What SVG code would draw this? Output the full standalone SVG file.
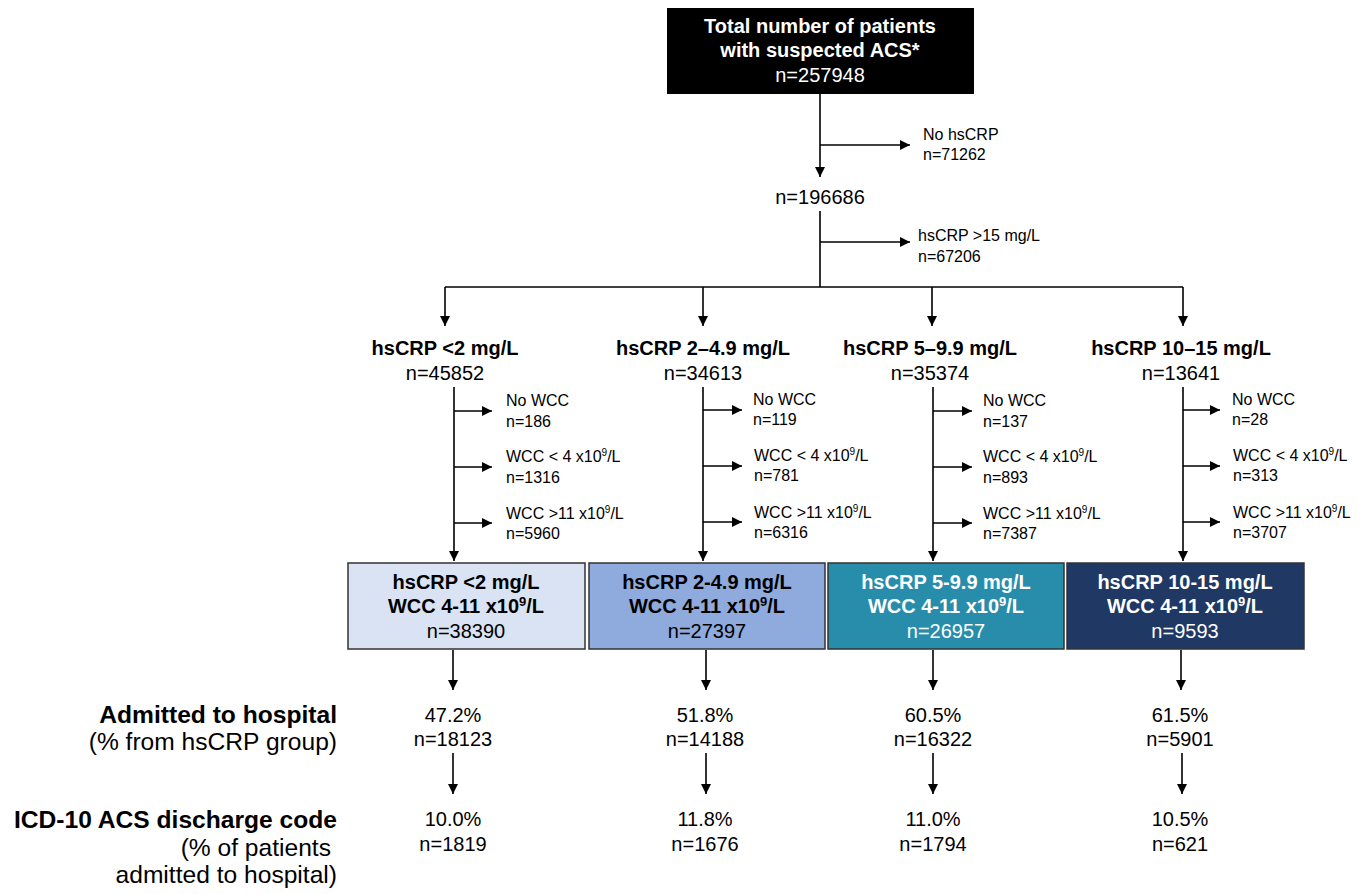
<svg xmlns="http://www.w3.org/2000/svg" width="1370" height="894" viewBox="0 0 1370 894">
<defs>
<marker id="ah" markerUnits="userSpaceOnUse" markerWidth="11" markerHeight="10" refX="10" refY="5" orient="auto">
<path d="M0,0 L10,5 L0,10 z" fill="#000"/>
</marker>
<style>
.c{stroke:#000;stroke-width:1.6;fill:none;marker-end:url(#ah)}
.p{stroke:#000;stroke-width:1.6;fill:none}
text{font-family:"Liberation Sans",Arial,sans-serif;fill:#000}
.b{font-weight:bold}
.m{text-anchor:middle}
.e{text-anchor:end}
.s16{font-size:16px}
.s20{font-size:20px}
.s24{font-size:24.6px}
.w{fill:#fff}
.box{stroke:#333;stroke-width:1.5}
</style>
</defs>
<rect width="1370" height="894" fill="#fff"/>

<g id="connectors">
<line class="c" x1="820" y1="94" x2="820" y2="177"/>
<line class="c" x1="820" y1="145" x2="910" y2="145"/>
<line class="p" x1="820" y1="211" x2="820" y2="287"/>
<line class="c" x1="820" y1="242" x2="910" y2="242"/>
<line class="p" x1="445" y1="287" x2="1183" y2="287"/>
<line class="c" x1="445" y1="287" x2="445" y2="326"/>
<line class="c" x1="703" y1="287" x2="703" y2="326"/>
<line class="c" x1="932" y1="287" x2="932" y2="326"/>
<line class="c" x1="1183" y1="287" x2="1183" y2="326"/>

<line class="c" x1="454" y1="387" x2="454" y2="561"/>
<line class="c" x1="454" y1="411" x2="492" y2="411"/>
<line class="c" x1="454" y1="467" x2="492" y2="467"/>
<line class="c" x1="454" y1="523" x2="492" y2="523"/>

<line class="c" x1="703" y1="387" x2="703" y2="561"/>
<line class="c" x1="703" y1="410" x2="742" y2="410"/>
<line class="c" x1="703" y1="466" x2="742" y2="466"/>
<line class="c" x1="703" y1="522" x2="742" y2="522"/>

<line class="c" x1="933" y1="387" x2="933" y2="561"/>
<line class="c" x1="933" y1="411" x2="972" y2="411"/>
<line class="c" x1="933" y1="467" x2="972" y2="467"/>
<line class="c" x1="933" y1="523" x2="972" y2="523"/>

<line class="c" x1="1183" y1="387" x2="1183" y2="561"/>
<line class="c" x1="1183" y1="410" x2="1220" y2="410"/>
<line class="c" x1="1183" y1="466" x2="1220" y2="466"/>
<line class="c" x1="1183" y1="522" x2="1220" y2="522"/>

<line class="c" x1="453" y1="650" x2="453" y2="690"/>
<line class="c" x1="706" y1="650" x2="706" y2="690"/>
<line class="c" x1="933" y1="650" x2="933" y2="690"/>
<line class="c" x1="1181" y1="650" x2="1181" y2="690"/>
<line class="c" x1="453" y1="753" x2="453" y2="794"/>
<line class="c" x1="706" y1="753" x2="706" y2="794"/>
<line class="c" x1="933" y1="753" x2="933" y2="794"/>
<line class="c" x1="1182" y1="753" x2="1182" y2="794"/>
</g>

<g id="total">
<rect x="667" y="8" width="307" height="86" fill="#000"/>
<text class="b s20 m w" x="820" y="33">Total number of patients</text>
<text class="b s20 m w" x="820" y="57">with suspected ACS*</text>
<text class="s20 m w" x="820" y="82">n=257948</text>
</g>

<g id="no-hscrp">
<text class="s16" x="923" y="140">No hsCRP</text>
<text class="s16" x="923" y="160">n=71262</text>
</g>

<g id="n196686">
<text class="s20 m" x="820" y="204">n=196686</text>
</g>

<g id="hscrp-gt15">
<text class="s16" x="918" y="241">hsCRP &gt;15 mg/L</text>
<text class="s16" x="918" y="262">n=67206</text>
</g>

<g id="head1">
<text class="b s20 m" x="445" y="355">hsCRP &lt;2 mg/L</text>
<text class="s20 m" x="445" y="380">n=45852</text>
</g>
<g id="head2">
<text class="b s20 m" x="703" y="355">hsCRP 2–4.9 mg/L</text>
<text class="s20 m" x="703" y="380">n=34613</text>
</g>
<g id="head3">
<text class="b s20 m" x="930" y="355">hsCRP 5–9.9 mg/L</text>
<text class="s20 m" x="930" y="380">n=35374</text>
</g>
<g id="head4">
<text class="b s20 m" x="1181" y="355">hsCRP 10–15 mg/L</text>
<text class="s20 m" x="1181" y="380">n=13641</text>
</g>

<g id="excl1">
<text class="s16" x="506" y="406">No WCC</text>
<text class="s16" x="506" y="427">n=186</text>
<text class="s16" x="506" y="462">WCC &lt; 4 x10<tspan dy="-6" font-size="10">9</tspan><tspan dy="6">/L</tspan></text>
<text class="s16" x="506" y="483">n=1316</text>
<text class="s16" x="506" y="519">WCC &gt;11 x10<tspan dy="-6" font-size="10">9</tspan><tspan dy="6">/L</tspan></text>
<text class="s16" x="506" y="539">n=5960</text>
</g>
<g id="excl2">
<text class="s16" x="753" y="405">No WCC</text>
<text class="s16" x="753" y="425">n=119</text>
<text class="s16" x="754" y="461">WCC &lt; 4 x10<tspan dy="-6" font-size="10">9</tspan><tspan dy="6">/L</tspan></text>
<text class="s16" x="754" y="481">n=781</text>
<text class="s16" x="754" y="518">WCC &gt;11 x10<tspan dy="-6" font-size="10">9</tspan><tspan dy="6">/L</tspan></text>
<text class="s16" x="754" y="538">n=6316</text>
</g>
<g id="excl3">
<text class="s16" x="983" y="406">No WCC</text>
<text class="s16" x="983" y="427">n=137</text>
<text class="s16" x="983" y="462">WCC &lt; 4 x10<tspan dy="-6" font-size="10">9</tspan><tspan dy="6">/L</tspan></text>
<text class="s16" x="983" y="483">n=893</text>
<text class="s16" x="983" y="519">WCC &gt;11 x10<tspan dy="-6" font-size="10">9</tspan><tspan dy="6">/L</tspan></text>
<text class="s16" x="983" y="539">n=7387</text>
</g>
<g id="excl4">
<text class="s16" x="1232" y="405">No WCC</text>
<text class="s16" x="1232" y="425">n=28</text>
<text class="s16" x="1233" y="461">WCC &lt; 4 x10<tspan dy="-6" font-size="10">9</tspan><tspan dy="6">/L</tspan></text>
<text class="s16" x="1233" y="481">n=313</text>
<text class="s16" x="1233" y="518">WCC &gt;11 x10<tspan dy="-6" font-size="10">9</tspan><tspan dy="6">/L</tspan></text>
<text class="s16" x="1233" y="538">n=3707</text>
</g>

<g id="box1">
<rect class="box" x="348" y="563" width="237" height="86" fill="#dae3f3"/>
<text class="b s20 m" x="466" y="589">hsCRP &lt;2 mg/L</text>
<text class="b s20 m" x="466" y="613">WCC 4-11 x10<tspan dy="-7" font-size="13">9</tspan><tspan dy="7">/L</tspan></text>
<text class="s20 m" x="466" y="638">n=38390</text>
</g>
<g id="box2">
<rect class="box" x="589" y="563" width="236" height="86" fill="#8faadc"/>
<text class="b s20 m" x="707" y="589">hsCRP 2-4.9 mg/L</text>
<text class="b s20 m" x="707" y="613">WCC 4-11 x10<tspan dy="-7" font-size="13">9</tspan><tspan dy="7">/L</tspan></text>
<text class="s20 m" x="707" y="638">n=27397</text>
</g>
<g id="box3">
<rect class="box" x="828" y="563" width="236" height="86" fill="#278dab"/>
<text class="b s20 m w" x="946" y="589">hsCRP 5-9.9 mg/L</text>
<text class="b s20 m w" x="946" y="613">WCC 4-11 x10<tspan dy="-7" font-size="13">9</tspan><tspan dy="7">/L</tspan></text>
<text class="s20 m w" x="946" y="638">n=26957</text>
</g>
<g id="box4">
<rect class="box" x="1067" y="563" width="237" height="86" fill="#1f3864"/>
<text class="b s20 m w" x="1185" y="589">hsCRP 10-15 mg/L</text>
<text class="b s20 m w" x="1185" y="613">WCC 4-11 x10<tspan dy="-7" font-size="13">9</tspan><tspan dy="7">/L</tspan></text>
<text class="s20 m w" x="1185" y="638">n=9593</text>
</g>

<g id="label-admitted">
<text class="b s24 e" x="337" y="723">Admitted to hospital</text>
<text class="s24 e" x="337" y="750">(% from hsCRP group)</text>
</g>
<g id="label-icd">
<text class="b s24 e" x="337" y="828">ICD-10 ACS discharge code</text>
<text class="s24 e" x="331" y="856">(% of patients</text>
<text class="s24 e" x="337" y="883">admitted to hospital)</text>
</g>

<g id="adm1"><text class="s20 m" x="453" y="722">47.2%</text><text class="s20 m" x="453" y="746">n=18123</text></g>
<g id="adm2"><text class="s20 m" x="705" y="722">51.8%</text><text class="s20 m" x="705" y="746">n=14188</text></g>
<g id="adm3"><text class="s20 m" x="933" y="722">60.5%</text><text class="s20 m" x="933" y="746">n=16322</text></g>
<g id="adm4"><text class="s20 m" x="1180" y="722">61.5%</text><text class="s20 m" x="1180" y="746">n=5901</text></g>

<g id="icd1"><text class="s20 m" x="453" y="826">10.0%</text><text class="s20 m" x="453" y="851">n=1819</text></g>
<g id="icd2"><text class="s20 m" x="705" y="826">11.8%</text><text class="s20 m" x="705" y="851">n=1676</text></g>
<g id="icd3"><text class="s20 m" x="933" y="826">11.0%</text><text class="s20 m" x="933" y="851">n=1794</text></g>
<g id="icd4"><text class="s20 m" x="1180" y="826">10.5%</text><text class="s20 m" x="1180" y="851">n=621</text></g>
</svg>
